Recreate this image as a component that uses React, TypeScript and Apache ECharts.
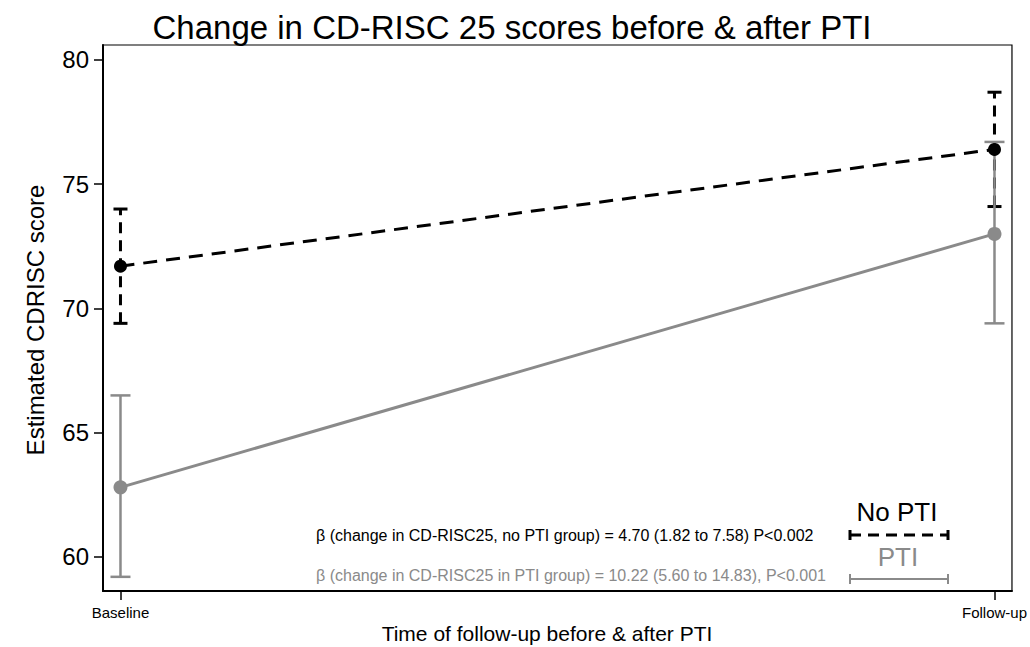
import React, { useEffect, useRef } from "react";
import * as echarts from "echarts";

const timePoints = [0, 1];
const timeLabels = ["Baseline", "Follow-up"];
const noPtiMean = [71.7, 76.4];
const noPtiLower = [69.4, 74.1];
const noPtiUpper = [74.0, 78.7];
const ptiMean = [62.8, 73.0];
const ptiLower = [59.2, 69.4];
const ptiUpper = [66.5, 76.7];
const yTicks = [60, 65, 70, 75, 80];

const titleText = "Change in CD-RISC 25 scores before & after PTI";
const xName = "Time of follow-up before & after PTI";
const yName = "Estimated CDRISC score";
const noPtiNote = "β (change in CD-RISC25, no PTI group) = 4.70 (1.82 to 7.58) P<0.002";
const ptiNote = "β (change in CD-RISC25 in PTI group) = 10.22 (5.60 to 14.83), P<0.001";

const FONT = "'Liberation Sans', Arial, Helvetica, sans-serif";
const GRAY = "#8a8a8a";

function errorBars(lower: number[], upper: number[], color: string, width: number, dash: number[] | null, capHalf: number, z: number) {
  return {
    type: "custom",
    z,
    silent: true,
    clip: false,
    data: timePoints.map((t, i) => [t, lower[i], upper[i]]),
    encode: { x: 0, y: [1, 2] },
    renderItem: (_params: any, api: any) => {
      const x = api.value(0);
      const lo = api.coord([x, api.value(1)]);
      const hi = api.coord([x, api.value(2)]);
      const capStyle = { stroke: color, lineWidth: width };
      return {
        type: "group",
        children: [
          {
            type: "line",
            shape: { x1: lo[0], y1: lo[1], x2: hi[0], y2: hi[1] },
            style: { stroke: color, lineWidth: width, lineDash: dash || undefined },
          },
          { type: "line", shape: { x1: lo[0] - capHalf, y1: lo[1], x2: lo[0] + capHalf, y2: lo[1] }, style: capStyle },
          { type: "line", shape: { x1: hi[0] - capHalf, y1: hi[1], x2: hi[0] + capHalf, y2: hi[1] }, style: capStyle },
        ],
      };
    },
  };
}

export default function App() {
  const ref = useRef<HTMLDivElement>(null);
  useEffect(() => {
    document.body.style.margin = "0";
    if (!ref.current) return;
    const chart = echarts.init(ref.current, null, { renderer: "svg" });
    chart.setOption({
      animation: false,
      backgroundColor: "#fff",
      textStyle: { fontFamily: FONT },
      grid: { left: 103, right: 17, top: 45, bottom: 56, show: true, borderColor: "#000", borderWidth: 1.2, backgroundColor: "transparent" },
      xAxis: {
        type: "value",
        min: -0.02,
        max: 1.02,
        splitLine: { show: false },
        axisLine: { show: true, onZero: false, lineStyle: { color: "#000", width: 2 } },
        axisTick: { show: true, customValues: timePoints, length: 9, lineStyle: { color: "#000", width: 1.5 } },
        axisLabel: {
          customValues: timePoints,
          margin: 14,
          color: "#000",
          fontSize: 15,
          fontFamily: FONT,
          formatter: (v: number) => timeLabels[timePoints.indexOf(Math.round(v))] ?? "",
        },
      },
      yAxis: {
        type: "value",
        min: 58.63,
        max: 80.6,
        splitLine: { show: false },
        axisLine: { show: true, onZero: false, lineStyle: { color: "#000", width: 2 } },
        axisTick: { show: true, customValues: yTicks, length: 9, lineStyle: { color: "#000", width: 1.5 } },
        axisLabel: { customValues: yTicks, margin: 14, color: "#000", fontSize: 24, fontFamily: FONT },
      },
      graphic: [
        { type: "text", x: 512, y: 27, style: { text: titleText, fill: "#000", font: `33px ${FONT}`, textAlign: "center", textVerticalAlign: "middle" } },
        { type: "text", x: 547, y: 633, style: { text: xName, fill: "#000", font: `21px ${FONT}`, textAlign: "center", textVerticalAlign: "middle" } },
        { type: "text", x: 35, y: 320, rotation: Math.PI / 2, style: { text: yName, fill: "#000", font: `24px ${FONT}`, textAlign: "center", textVerticalAlign: "middle" } },
        { type: "text", x: 316, y: 535, style: { text: noPtiNote, fill: "#000", font: `16px ${FONT}`, textAlign: "left", textVerticalAlign: "middle" } },
        { type: "text", x: 316, y: 575, style: { text: ptiNote, fill: GRAY, font: `16px ${FONT}`, textAlign: "left", textVerticalAlign: "middle" } },
        { type: "text", x: 897, y: 512, style: { text: "No PTI", fill: "#000", font: `26px ${FONT}`, textAlign: "center", textVerticalAlign: "middle" } },
        { type: "line", shape: { x1: 850, y1: 535, x2: 948, y2: 535 }, style: { stroke: "#000", lineWidth: 3, lineDash: [11, 7] } },
        { type: "line", shape: { x1: 850, y1: 530, x2: 850, y2: 540 }, style: { stroke: "#000", lineWidth: 3 } },
        { type: "line", shape: { x1: 948, y1: 530, x2: 948, y2: 540 }, style: { stroke: "#000", lineWidth: 3 } },
        { type: "text", x: 898, y: 557, style: { text: "PTI", fill: GRAY, font: `26px ${FONT}`, textAlign: "center", textVerticalAlign: "middle" } },
        { type: "line", shape: { x1: 850, y1: 579, x2: 948, y2: 579 }, style: { stroke: GRAY, lineWidth: 2 } },
        { type: "line", shape: { x1: 850, y1: 574, x2: 850, y2: 584 }, style: { stroke: GRAY, lineWidth: 2 } },
        { type: "line", shape: { x1: 948, y1: 574, x2: 948, y2: 584 }, style: { stroke: GRAY, lineWidth: 2 } },
      ],
      series: [
        errorBars(noPtiLower, noPtiUpper, "#000", 3, [11, 7], 7, 2),
        errorBars(ptiLower, ptiUpper, GRAY, 2.5, null, 10, 3),
        {
          type: "line",
          z: 4,
          data: timePoints.map((t, i) => [t, ptiMean[i]]),
          lineStyle: { color: GRAY, width: 3 },
          itemStyle: { color: GRAY },
          symbol: "circle",
          symbolSize: 14,
          silent: true,
        },
        {
          type: "line",
          z: 5,
          data: timePoints.map((t, i) => [t, noPtiMean[i]]),
          lineStyle: { color: "#000", width: 3, type: [14, 9] },
          itemStyle: { color: "#000" },
          symbol: "circle",
          symbolSize: 13,
          silent: true,
        },
      ],
    });
    return () => chart.dispose();
  }, []);
  return <div ref={ref} style={{ width: 1030, height: 647 }} />;
}
